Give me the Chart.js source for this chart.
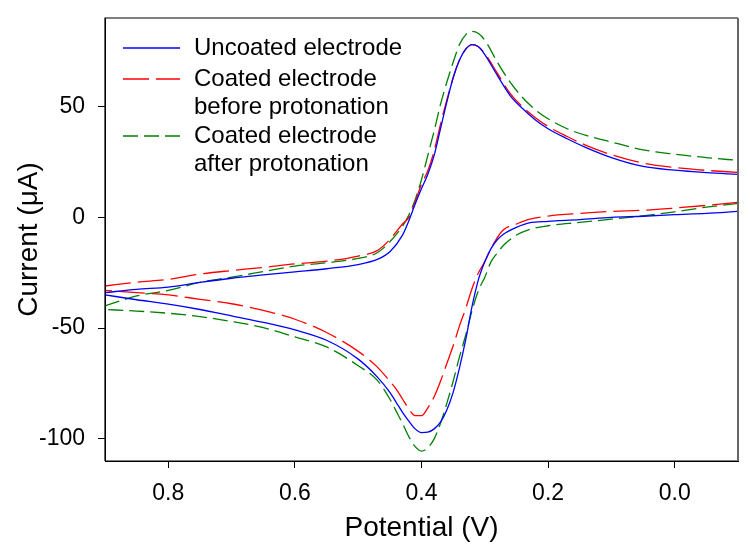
<!DOCTYPE html>
<html>
<head>
<meta charset="utf-8">
<script src="https://cdn.jsdelivr.net/npm/chart.js@4.4.1/dist/chart.umd.min.js"></script>
<style>
  body { margin: 0; background: #fff; }
  #wrap { width: 750px; height: 551px; }
</style>
</head>
<body>
<div id="wrap"><canvas id="cv" width="750" height="551"></canvas></div>
<script>
// potential (V) for the forward branch (upper) and the return branch (lower)
const potUpper = [0.90, 0.85, 0.80, 0.75, 0.70, 0.65, 0.60, 0.55, 0.50, 0.47, 0.45, 0.43, 0.42, 0.41, 0.40, 0.39, 0.38, 0.37, 0.36, 0.35, 0.34, 0.33, 0.32, 0.31, 0.30, 0.28, 0.26, 0.24, 0.22, 0.20, 0.17, 0.14, 0.10, 0.05, 0.00, -0.05, -0.10];
const potLower = [-0.10, -0.05, 0.00, 0.05, 0.10, 0.15, 0.20, 0.23, 0.25, 0.27, 0.28, 0.29, 0.30, 0.31, 0.32, 0.33, 0.34, 0.35, 0.36, 0.37, 0.38, 0.39, 0.40, 0.41, 0.42, 0.43, 0.44, 0.45, 0.47, 0.50, 0.55, 0.60, 0.65, 0.70, 0.75, 0.80, 0.85, 0.90];

// current (uA)
const uncoatedUpper = [-34, -32.5, -31.5, -29.4, -27.5, -26, -24.6, -23.2, -21.3, -19, -15.5, -8, -1.5, 6, 13, 19.5, 28, 40, 52, 63, 71, 76, 78, 77, 73.5, 64, 55, 49, 44, 40, 35.5, 31.5, 27, 23, 21.3, 20.2, 19.4];
const uncoatedLower = [2.7, 1.8, 1.2, 0.5, 0, -1, -1.8, -2.5, -4.5, -7.5, -10, -14, -20, -28, -40, -55, -68, -79, -87, -92.5, -95.5, -97, -97.2, -95.5, -92, -88, -83.5, -79, -72, -64, -55.5, -50.8, -47.4, -44.5, -41.6, -39.2, -37.2, -35];

const beforeUpper = [-31, -29.3, -28, -25.6, -24, -22.6, -21, -19.8, -17.5, -15, -10, -3, 0, 7, 15, 21, 30, 42, 53, 63, 71, 76, 78, 77, 74, 65, 56, 49.8, 45, 41, 36.5, 32.5, 28.3, 24.5, 22.5, 21.2, 20.3];
const beforeLower = [6.8, 5.4, 4.2, 3.2, 2.7, 1.8, 0.6, -0.9, -3, -5.5, -9, -14, -20, -25, -32, -41, -49, -58, -66, -74, -81, -86, -89.5, -89.5, -86.5, -82, -77.5, -74, -67.5, -60.5, -52, -46, -42, -39, -37, -35, -34, -33];

const afterUpper = [-40, -35.5, -33, -29.4, -27, -24.5, -22, -20.5, -18.5, -16, -11, -4, 1, 8, 17, 28, 39, 51, 61, 70, 78, 82.5, 84, 83, 80, 70, 61, 54, 48.5, 44.5, 40, 37, 34, 30.5, 28.5, 27, 25.7];
const afterLower = [6.3, 4.6, 2.5, 0.7, -0.8, -2.3, -3.8, -5.5, -8, -12.5, -16, -20, -27, -33, -42, -53, -63, -74, -84, -93, -100, -104, -105.5, -103.5, -99, -93, -87.5, -82, -73.5, -67, -58.5, -54, -49.8, -47, -44.8, -43.3, -42.3, -41.6];

const seriesNames = [["Uncoated electrode"], ["Coated electrode", "before protonation"], ["Coated electrode", "after protonation"]];
const xTicks = [0.8, 0.6, 0.4, 0.2, 0.0];
const yTicks = [-100, -50, 0, 50];

const colors = ["#0000ff", "#ff0000", "#008000"];
const dashes = [[], [26, 7], [15, 6]];
const FONT = "'Liberation Sans', Arial, sans-serif";

function pts(xs, ys) {
  return xs.map((x, i) => ({ x: x, y: ys[i] }));
}

function line(idx, xs, ys) {
  return {
    data: pts(xs, ys),
    borderColor: colors[idx],
    borderDash: dashes[idx],
    borderWidth: 1.3,
    showLine: true,
    pointRadius: 0,
    cubicInterpolationMode: "monotone",
    fill: false,
  };
}

const datasets = [
  line(0, potUpper, uncoatedUpper),
  line(0, potLower, uncoatedLower),
  line(1, potUpper, beforeUpper),
  line(1, potLower, beforeLower),
  line(2, potUpper, afterUpper),
  line(2, potLower, afterLower),
];

// legend drawn by hand because entries have two lines of text
const legendBox = {
  id: "legendBox",
  afterDraw(chart) {
    const ctx = chart.ctx;
    ctx.save();
    ctx.font = "24px " + FONT;
    ctx.textBaseline = "middle";
    ctx.fillStyle = "#000";
    let y = 48;
    seriesNames.forEach((lines, i) => {
      ctx.beginPath();
      ctx.strokeStyle = colors[i];
      ctx.lineWidth = 1.3;
      ctx.setLineDash(dashes[i]);
      ctx.moveTo(123, y);
      ctx.lineTo(180, y);
      ctx.stroke();
      lines.forEach((t, j) => {
        ctx.fillText(t, 194, y + j * 28.5);
      });
      y += lines.length * 28.5 + (lines.length === 1 ? 2.5 : 0);
    });
    ctx.restore();
  },
};

const frame = {
  id: "frame",
  afterDatasetsDraw(chart) {
    const a = chart.chartArea;
    const ctx = chart.ctx;
    ctx.save();
    ctx.setLineDash([]);
    ctx.strokeStyle = "#000";
    ctx.lineWidth = 1.2;
    ctx.beginPath();
    ctx.moveTo(a.left, a.bottom);
    ctx.lineTo(a.left, a.top);
    ctx.lineTo(a.right, a.top);
    ctx.moveTo(a.left, a.bottom);
    ctx.lineTo(a.right, a.bottom);
    ctx.stroke();
    ctx.strokeStyle = "#666";
    ctx.lineWidth = 2;
    ctx.beginPath();
    ctx.moveTo(a.right, a.top);
    ctx.lineTo(a.right, a.bottom);
    ctx.stroke();
    ctx.restore();
  },
};

const options = {
  responsive: false,
  animation: false,
  devicePixelRatio: 1,
  layout: { padding: { top: 18, right: 12, left: 0, bottom: 0 } },
  plugins: { legend: { display: false }, tooltip: { enabled: false } },
  scales: {
    x: {
      type: "linear",
      reverse: true,
      min: -0.1,
      max: 0.9,
      afterBuildTicks: (s) => { s.ticks = xTicks.map((v) => ({ value: v })); },
      afterFit: (s) => { s.height = 90; s.paddingLeft = 0; s.paddingRight = 0; },
      ticks: {
        color: "#000",
        font: { family: FONT, size: 23 },
        padding: 12,
        maxRotation: 0,
        callback: (v) => Number(v).toFixed(1),
      },
      grid: { drawOnChartArea: false, drawTicks: true, tickLength: 7, color: "#000" },
      border: { display: true, color: "#000", width: 1 },
      title: { display: true, text: "Potential (V)", color: "#000", font: { family: FONT, size: 28 }, padding: { top: 6, bottom: 6 } },
    },
    y: {
      type: "linear",
      min: -110,
      max: 90,
      afterBuildTicks: (s) => { s.ticks = yTicks.map((v) => ({ value: v })); },
      afterFit: (s) => { s.width = 105; s.paddingTop = 0; s.paddingBottom = 0; },
      ticks: {
        color: "#000",
        font: { family: FONT, size: 23 },
        padding: 13,
        callback: (v) => String(v),
      },
      grid: { drawOnChartArea: false, drawTicks: true, tickLength: 7, color: "#000" },
      border: { display: true, color: "#000", width: 1 },
      title: { display: true, text: "Current (μA)", color: "#000", font: { family: FONT, size: 28 }, padding: { top: 12, bottom: 12 } },
    },
  },
};

new Chart(document.getElementById("cv"), {
  type: "scatter",
  data: { datasets: datasets },
  options: options,
  plugins: [frame, legendBox],
});
</script>
</body>
</html>
